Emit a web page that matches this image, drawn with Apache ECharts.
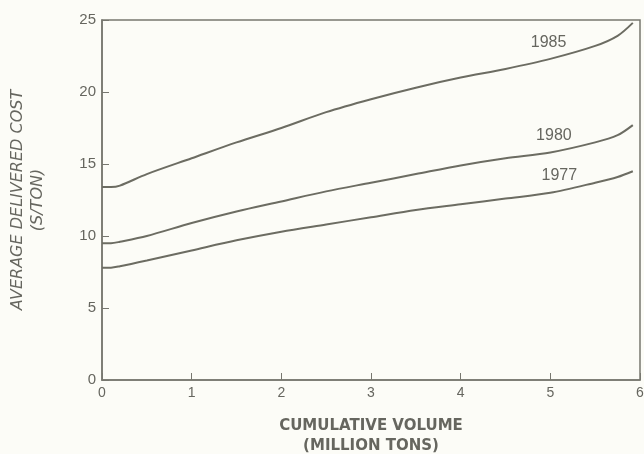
<!DOCTYPE html>
<html><head><meta charset="utf-8">
<script src="https://cdn.jsdelivr.net/npm/echarts@6/dist/echarts.min.js"></script>
<style>html,body{margin:0;padding:0;background:#fcfcf7;}#c{width:644px;height:454px;}</style>
</head><body><div id="c"></div>
<script>
const volume = [0, 0.1, 0.2, 0.5, 1, 1.5, 2, 2.5, 3, 3.5, 4, 4.5, 5, 5.5, 5.75, 5.92];
const cost1985 = [13.4, 13.4, 13.5, 14.3, 15.4, 16.5, 17.5, 18.6, 19.5, 20.3, 21.0, 21.6, 22.3, 23.2, 23.9, 24.8];
const cost1980 = [9.5, 9.5, 9.6, 10.0, 10.9, 11.7, 12.4, 13.1, 13.7, 14.3, 14.9, 15.4, 15.8, 16.5, 17.0, 17.7];
const cost1977 = [7.8, 7.8, 7.9, 8.3, 9.0, 9.7, 10.3, 10.8, 11.3, 11.8, 12.2, 12.6, 13.0, 13.7, 14.1, 14.5];
const seriesNames = ['1985', '1980', '1977'];
const labelPos = [[4.98, 23.4], [5.04, 17.0], [5.1, 14.2]];
const xTicks = [0, 1, 2, 3, 4, 5, 6];
const yTicks = [0, 5, 10, 15, 20, 25];

const lineColor = '#6c6c62';
const textColor = '#66665f';
const font = '"Liberation Sans", Arial, sans-serif';
const titleFont = '"DejaVu Sans", sans-serif';

const allSeries = [cost1985, cost1980, cost1977].map((vals, i) => ({
  name: seriesNames[i],
  type: 'line',
  smooth: 0.3,
  showSymbol: false,
  data: volume.map((x, j) => [x, vals[j]]),
  lineStyle: { color: lineColor, width: 2 },
  markPoint: {
    symbol: 'circle',
    symbolSize: 1,
    itemStyle: { color: 'rgba(0,0,0,0)' },
    data: [{ coord: labelPos[i], value: seriesNames[i] }],
    label: { show: true, formatter: seriesNames[i], color: textColor, fontSize: 16, fontFamily: font, position: 'inside' }
  },
  animation: false
}));

const chart = echarts.init(document.getElementById('c'));
chart.setOption({
  backgroundColor: '#fcfcf7',
  animation: false,
  grid: { left: 102, right: 4, top: 20, bottom: 74, show: true, borderColor: '#77776f', borderWidth: 1.5,
    backgroundColor: 'transparent', containLabel: false, outerBoundsMode: 'none' },
  xAxis: {
    type: 'value', min: 0, max: 6, interval: 1,
    axisLine: { show: true, lineStyle: { color: '#77776f', width: 1.5 } },
    axisTick: { show: true, inside: true, length: 7, lineStyle: { color: '#77776f' } },
    axisLabel: { color: textColor, fontSize: 14, fontFamily: font, margin: 6,
      formatter: v => xTicks.includes(v) ? String(v) : '' },
    splitLine: { show: false },
    name: 'CUMULATIVE VOLUME\n(MILLION TONS)',
    nameLocation: 'middle', nameGap: 36,
    nameTextStyle: { color: textColor, fontSize: 15, fontWeight: 'bold', fontFamily: titleFont, lineHeight: 20 }
  },
  yAxis: {
    type: 'value', min: 0, max: 25, interval: 5,
    axisLine: { show: true, lineStyle: { color: '#77776f', width: 1.5 } },
    axisTick: { show: true, inside: true, length: 7, lineStyle: { color: '#77776f' } },
    axisLabel: { color: textColor, fontSize: 15, fontFamily: font, margin: 6,
      formatter: v => yTicks.includes(v) ? String(v) : '' },
    splitLine: { show: false },
    name: 'AVERAGE DELIVERED COST\n(S/TON)',
    nameLocation: 'middle', nameGap: 54, nameRotate: 90,
    nameTextStyle: { color: textColor, fontSize: 16, fontStyle: 'italic', fontFamily: titleFont, lineHeight: 20 }
  },
  series: allSeries
});
</script></body></html>
